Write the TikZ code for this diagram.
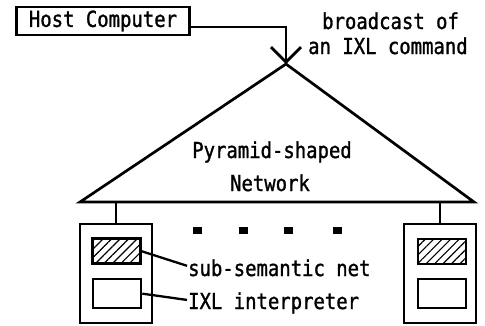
\documentclass[tikz,border=0pt]{standalone}
\usepackage{fontspec}
\setmonofont[FakeStretch=0.86,FakeBold=1.2]{DejaVu Sans Mono}
\usetikzlibrary{arrows.meta,patterns.meta}
\begin{document}
\begin{tikzpicture}[x=1pt,y=-1pt,
  lbl/.style={font=\fontsize{22}{22}\selectfont\ttfamily, inner sep=0pt},
  thick line/.style={line width=2.3pt},
  pebox/.style={draw, line width=2.3pt, minimum width=72pt, minimum height=99pt, inner sep=0pt, anchor=north west},
  hatchbox/.style={draw, line width=2.3pt, minimum width=48pt, minimum height=25pt, inner sep=0pt, anchor=north west,
     pattern={Lines[angle=45,distance=6pt,line width=1.2pt]}},
  whitebox/.style={draw, line width=2.3pt, minimum width=48pt, minimum height=29pt, inner sep=0pt, anchor=north west},
  dotbox/.style={fill, minimum width=9pt, minimum height=7pt, inner sep=0pt}]
\useasboundingbox (0,0) rectangle (485,325);
% host
\node[lbl, draw, line width=2.3pt, minimum width=173pt, minimum height=28pt] (host) at (103,21) {Host Computer};
% pyramid
\coordinate (apex) at (286,64);
\coordinate (bl) at (80,202);
\coordinate (br) at (474,202);
\draw[line width=2.7pt, line join=miter] (bl) -- (apex) -- (br) -- cycle;
\draw[thick line, -{Straight Barb[length=15pt,width=30pt,line width=2.7pt]}] ([yshift=-6pt]host.east) -| (apex);
\node[lbl, anchor=base west] (bc1) at (322,29) {broadcast of};
\node[lbl, anchor=base west] (bc2) at (308,54) {an IXL command};
\node[lbl, anchor=base] (py1) at (272,158) {Pyramid-shaped};
\node[lbl, anchor=base] (py2) at (270,191) {Network};
% processing elements
\node[pebox] (pe1) at (79,223) {};
\node[pebox] (pe2) at (403,223) {};
\node[hatchbox] (sn1) at (92,238) {};
\node[whitebox] (ix1) at (92,278) {};
\node[hatchbox] (sn2) at (417,238) {};
\node[whitebox] (ix2) at (417,278) {};
\draw[thick line] (pe1.north) -- (pe1.north |- bl);
\draw[thick line] (pe2.north) -- (pe2.north |- br);
% dots
\node[dotbox] (d1) at (197,230) {};
\node[dotbox] (d2) at (243,230) {};
\node[dotbox] (d3) at (288,230) {};
\node[dotbox] (d4) at (337,230) {};
% labels
\node[lbl, anchor=base west] (snl) at (188,276) {sub-semantic net};
\node[lbl, anchor=base west] (ixl) at (188,309) {IXL interpreter};
\draw[thick line] (sn1.east) -- ([xshift=-1pt,yshift=2pt]snl.west);
\draw[thick line] (ix1.east) -- ([xshift=-1pt,yshift=3pt]ixl.west);
\end{tikzpicture}
\end{document}
